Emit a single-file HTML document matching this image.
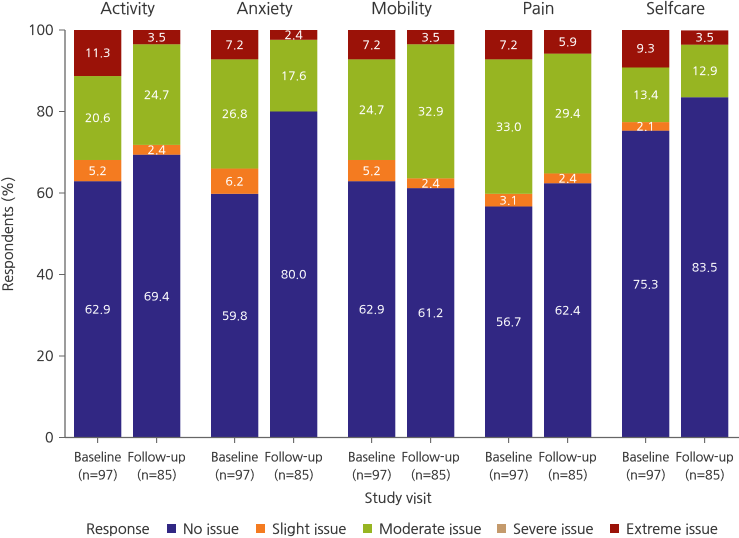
<!DOCTYPE html>
<html>
<head>
<meta charset="utf-8">
<style>
html,body{margin:0;padding:0;background:#fff;width:739px;height:538px;overflow:hidden}
svg{display:block}
text{font-family:"NanumGothic","Liberation Sans",sans-serif;fill:#333;stroke:#333;stroke-width:.25px}
text.value{fill:#fff;stroke:#fff;stroke-width:.2px}
</style>
</head>
<body>
<svg id="chart" width="739" height="538" viewBox="0 0 739 538"></svg>
<script>
const panels = ["Activity", "Anxiety", "Mobility", "Pain", "Selfcare"];
const visits = ["Baseline", "Follow-up"];
const visitCounts = ["(n=97)", "(n=85)"];
const responses = ["No issue", "Slight issue", "Moderate issue", "Severe issue", "Extreme issue"];
const responseColors = ["#312783", "#f47b20", "#97b522", "#c49a6c", "#9b1208"];
const yTicks = [0, 20, 40, 60, 80, 100];
const noIssue = [[62.9, 69.4], [59.8, 80.0], [62.9, 61.2], [56.7, 62.4], [75.3, 83.5]];
const slightIssue = [[5.2, 2.4], [6.2, 0], [5.2, 2.4], [3.1, 2.4], [2.1, 0]];
const moderateIssue = [[20.6, 24.7], [26.8, 17.6], [24.7, 32.9], [33.0, 29.4], [13.4, 12.9]];
const severeIssue = [[0, 0], [0, 0], [0, 0], [0, 0], [0, 0]];
const extremeIssue = [[11.3, 3.5], [7.2, 2.4], [7.2, 3.5], [7.2, 5.9], [9.3, 3.5]];

const seriesValues = [noIssue, slightIssue, moderateIssue, severeIssue, extremeIssue];
const svg = document.getElementById('chart');
const NS = 'http://www.w3.org/2000/svg';
function make(tag, attrs, txt) {
  const el = document.createElementNS(NS, tag);
  for (const k in attrs) el.setAttribute(k, attrs[k]);
  if (txt !== undefined) el.textContent = txt;
  svg.appendChild(el);
  return el;
}
const yBase = 437.5, yTop = 30, axisX = 65;
function yScale(v) { return yBase - (yBase - yTop) * v / 100; }
function barLeft(p, b) { return 74 + p * 137 + b * 59; }
const barW = 47.3;

panels.forEach(function (name, p) {
  const t = make('text', {x: barLeft(p, 0) + 53.5, y: 14, 'text-anchor': 'middle', 'font-size': 16.2}, name);
  
  
  visits.forEach(function (visit, b) {
    const cx = barLeft(p, b) + barW / 2;
    let cum = 0;
    seriesValues.forEach(function (series, s) {
      const v = series[p][b];
      if (v > 0) {
        const y1 = yScale(Math.min(cum + v, 100));
        const y0 = yScale(cum);
        const r = make('rect', {x: barLeft(p, b), y: y1, width: barW, height: y0 - y1, fill: responseColors[s]});
        
        
      }
      cum += v;
    });
    cum = 0;
    seriesValues.forEach(function (series, s) {
      const v = series[p][b];
      if (v > 0) {
        const l = make('text', {class: 'value', x: cx, y: yScale(cum + v / 2) + 4.2, 'text-anchor': 'middle', 'font-size': 12}, v.toFixed(1));
        
        
      }
      cum += v;
    });
    const tick = make('line', {x1: cx, x2: cx, y1: yBase, y2: yBase + 5.5, stroke: '#555', 'stroke-width': 1});
    
    
    const vl = make('text', {x: cx, y: 461.5, 'text-anchor': 'middle', 'font-size': 12.6}, visit);
    
    
    const nl = make('text', {x: cx, y: 479.5, 'text-anchor': 'middle', 'font-size': 12.6}, visitCounts[b]);
    
    
  });
});

const yAxis = make('line', {x1: axisX, x2: axisX, y1: yTop, y2: yBase, stroke: '#666', 'stroke-width': 1.3});


const xAxis = make('line', {x1: axisX, x2: 739, y1: yBase, y2: yBase, stroke: '#666', 'stroke-width': 1.3});


yTicks.forEach(function (v) {
  const tk = make('line', {x1: 59, x2: axisX, y1: yScale(v), y2: yScale(v), stroke: '#666', 'stroke-width': 1});
  
  
  const lb = make('text', {x: 53.5, y: yScale(v) + 5, 'text-anchor': 'end', 'font-size': 14}, v);
  
  
});

const yTitle = make('text', {x: 0, y: 0, transform: 'translate(13,234) rotate(-90)', 'text-anchor': 'middle', 'font-size': 14.3}, 'Respondents (%)');


const xTitle = make('text', {x: 398, y: 503, 'text-anchor': 'middle', 'font-size': 14.5}, 'Study visit');



const legendTitle = make('text', {x: 86, y: 534, 'font-size': 14.5}, 'Response');


const legendSwatchX = [167, 256, 363, 497, 610];
responses.forEach(function (label, i) {
  const sw = make('rect', {x: legendSwatchX[i], y: 524, width: 9, height: 9, fill: responseColors[i]});
  
  
  const tx = make('text', {x: legendSwatchX[i] + 16, y: 534, 'font-size': 14.5}, label);
  
  
});
</script>
</body>
</html>
